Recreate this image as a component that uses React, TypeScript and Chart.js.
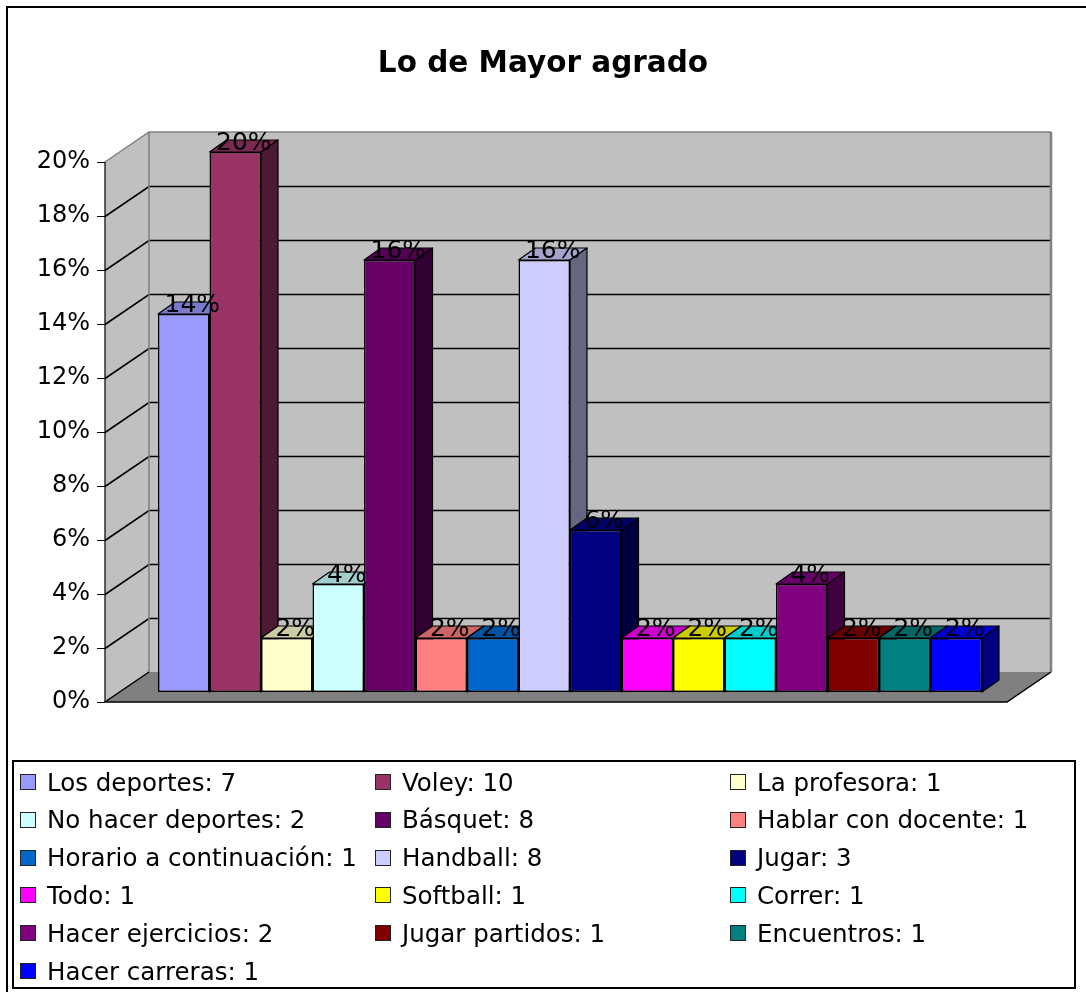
import React, { useEffect, useRef } from "react";
import { Chart, registerables } from "chart.js";

Chart.register(...registerables);

const chartTitle = "Lo de Mayor agrado";

const categories = [
  "Los deportes",
  "Voley",
  "La profesora",
  "No hacer deportes",
  "Básquet",
  "Hablar con docente",
  "Horario a continuación",
  "Handball",
  "Jugar",
  "Todo",
  "Softball",
  "Correr",
  "Hacer ejercicios",
  "Jugar partidos",
  "Encuentros",
  "Hacer carreras",
];

const counts = [7, 10, 1, 2, 8, 1, 1, 8, 3, 1, 1, 1, 2, 1, 1, 1];

const percents = [14, 20, 2, 4, 16, 2, 2, 16, 6, 2, 2, 2, 4, 2, 2, 2];

const colors = [
  "#9999FF",
  "#993366",
  "#FFFFCC",
  "#CCFFFF",
  "#660066",
  "#FF8080",
  "#0066CC",
  "#CCCCFF",
  "#000080",
  "#FF00FF",
  "#FFFF00",
  "#00FFFF",
  "#800080",
  "#800000",
  "#008080",
  "#0000FF",
];

const yMin = 0;
const yMax = 20;
const yStep = 2;

const FONT = '"DejaVu Sans", "Liberation Sans", Arial, sans-serif';

// 3D geometry (pixels)
const WALL = { dx: 44, dy: -30 };
const BAR_OFF = { dx: 14, dy: -10 };
const BAR_DEPTH = { dx: 17, dy: -12 };

function shade(hex: string, f: number): string {
  const n = parseInt(hex.slice(1), 16);
  const r = Math.round(((n >> 16) & 255) * f);
  const g = Math.round(((n >> 8) & 255) * f);
  const b = Math.round((n & 255) * f);
  return `rgb(${r},${g},${b})`;
}

const threeD = {
  id: "threeD",
  beforeDatasetsDraw(chart: any) {
    const { ctx, chartArea: a } = chart;
    const y = chart.scales.y;
    const L = a.left,
      R = a.right,
      T = a.top,
      B = a.bottom;
    const { dx, dy } = WALL;
    ctx.save();
    // left wall
    ctx.fillStyle = "#C0C0C0";
    ctx.beginPath();
    ctx.moveTo(L, B);
    ctx.lineTo(L, T);
    ctx.lineTo(L + dx, T + dy);
    ctx.lineTo(L + dx, B + dy);
    ctx.closePath();
    ctx.fill();
    // back wall
    ctx.fillRect(L + dx, T + dy, R - L, B - T);
    // grid lines
    ctx.strokeStyle = "#000";
    ctx.lineWidth = 1.6;
    for (const t of y.ticks) {
      const v = t.value;
      if (v <= yMin || v >= yMax) continue;
      const py = Math.round(y.getPixelForValue(v)) + 0.5;
      ctx.beginPath();
      ctx.moveTo(L, py);
      ctx.lineTo(L + dx, py + dy);
      ctx.lineTo(R + dx, py + dy);
      ctx.stroke();
    }
    // wall edges
    ctx.strokeStyle = "#808080";
    ctx.lineWidth = 1.5;
    ctx.beginPath();
    ctx.moveTo(L, T);
    ctx.lineTo(L + dx, T + dy);
    ctx.lineTo(R + dx, T + dy);
    ctx.moveTo(L + dx, T + dy);
    ctx.lineTo(L + dx, B + dy);
    ctx.stroke();
    ctx.lineWidth = 2.5;
    ctx.beginPath();
    ctx.moveTo(R + dx, T + dy);
    ctx.lineTo(R + dx, B + dy);
    ctx.stroke();
    // floor
    ctx.fillStyle = "#808080";
    ctx.beginPath();
    ctx.moveTo(L, B);
    ctx.lineTo(R, B);
    ctx.lineTo(R + dx, B + dy);
    ctx.lineTo(L + dx, B + dy);
    ctx.closePath();
    ctx.fill();
    ctx.strokeStyle = "#000";
    ctx.lineWidth = 1.5;
    ctx.beginPath();
    ctx.moveTo(L + dx, B + dy);
    ctx.lineTo(L, B);
    ctx.lineTo(R, B);
    ctx.lineTo(R + dx, B + dy);
    ctx.stroke();
    // axis line + ticks
    ctx.lineWidth = 1.2;
    ctx.beginPath();
    ctx.moveTo(L, T);
    ctx.lineTo(L, B);
    for (const t of y.ticks) {
      const py = Math.round(y.getPixelForValue(t.value)) + 0.5;
      ctx.moveTo(L - 8, py);
      ctx.lineTo(L, py);
    }
    ctx.stroke();
    ctx.restore();

    // bars plane: shift into depth
    ctx.save();
    ctx.translate(BAR_OFF.dx, BAR_OFF.dy);
    const n = chart.data.datasets.length;
    ctx.lineWidth = 1.2;
    ctx.strokeStyle = "#000";
    ctx.lineJoin = "round";
    for (let i = 0; i < n; i++) {
      const meta = chart.getDatasetMeta(i);
      const el = meta.data[0];
      if (!el) continue;
      const p = el.getProps(["x", "y", "base", "width"], true);
      const l = p.x - p.width / 2;
      const r = p.x + p.width / 2;
      const top = Math.min(p.y, p.base);
      const bot = Math.max(p.y, p.base);
      const c = colors[i];
      const bx = BAR_DEPTH.dx,
        by = BAR_DEPTH.dy;
      // top face
      ctx.fillStyle = shade(c, 0.8);
      ctx.beginPath();
      ctx.moveTo(l, top);
      ctx.lineTo(r, top);
      ctx.lineTo(r + bx, top + by);
      ctx.lineTo(l + bx, top + by);
      ctx.closePath();
      ctx.fill();
      ctx.stroke();
      // side face
      ctx.fillStyle = shade(c, 0.5);
      ctx.beginPath();
      ctx.moveTo(r, top);
      ctx.lineTo(r + bx, top + by);
      ctx.lineTo(r + bx, bot + by);
      ctx.lineTo(r, bot);
      ctx.closePath();
      ctx.fill();
      ctx.stroke();
    }
  },
  afterDatasetsDraw(chart: any) {
    const { ctx } = chart;
    const n = chart.data.datasets.length;
    ctx.fillStyle = "#000";
    ctx.font = `25px ${FONT}`;
    ctx.textAlign = "center";
    ctx.textBaseline = "alphabetic";
    for (let i = 0; i < n; i++) {
      const el = chart.getDatasetMeta(i).data[0];
      if (!el) continue;
      const p = el.getProps(["x", "y"], true);
      ctx.fillText(`${percents[i]}%`, p.x + BAR_DEPTH.dx / 2, p.y - 2);
    }
    ctx.restore();
  },
};

export default function App() {
  const canvasRef = useRef<HTMLCanvasElement | null>(null);

  useEffect(() => {
    const canvas = canvasRef.current;
    if (!canvas) return;
    const chart = new Chart(canvas, {
      type: "bar",
      data: {
        labels: [""],
        datasets: categories.map((c, i) => ({
          label: `${c}: ${counts[i]}`,
          data: [percents[i]],
          backgroundColor: colors[i],
          borderColor: "#000",
          borderWidth: 1.5,
          borderSkipped: false,
          categoryPercentage: 0.9135,
          barPercentage: 1,
          clip: false,
        })),
      },
      options: {
        responsive: false,
        animation: false,
        devicePixelRatio: 1,
        layout: { padding: { left: 0, top: 162, right: 79, bottom: 290 } },
        plugins: {
          legend: { display: false },
          title: { display: false },
          tooltip: { enabled: false },
        },
        scales: {
          x: { type: "category", display: false },
          y: {
            min: yMin,
            max: yMax,
            grid: { display: false, drawTicks: false },
            border: { display: false },
            ticks: {
              stepSize: yStep,
              padding: 15,
              color: "#000",
              font: { family: FONT, size: 24 },
              callback: (v: any) => `${v}%`,
            },
            afterFit: (s: any) => {
              s.width = 105;
            },
          },
        },
      } as any,
      plugins: [threeD],
    });
    return () => chart.destroy();
  }, []);

  const legendCols = [47, 402, 757];
  const rowTop = 763;
  const rowH = 37.8;

  return (
    <div
      style={{
        position: "absolute",
        left: 0,
        top: 0,
        width: 1086,
        height: 992,
        overflow: "hidden",
        background: "#fff",
        fontFamily: FONT,
      }}
    >
      <div
        style={{
          position: "absolute",
          left: 6,
          top: 6,
          width: 1090,
          height: 1000,
          borderLeft: "2px solid #000",
          borderTop: "2px solid #000",
        }}
      />
      <canvas
        ref={canvasRef}
        width={1086}
        height={992}
        style={{ position: "absolute", left: 0, top: 0, display: "block" }}
      />
      <div
        style={{
          position: "absolute",
          left: 0,
          width: 1086,
          top: 48,
          textAlign: "center",
          fontWeight: "bold",
          fontSize: 29.5,
          lineHeight: "29px",
          color: "#000",
        }}
      >
        {chartTitle}
      </div>
      <div
        style={{
          position: "absolute",
          left: 12,
          top: 760,
          width: 1064,
          height: 229,
          border: "2px solid #000",
          boxSizing: "border-box",
        }}
      />
      {categories.map((c, i) => {
        const col = i % 3;
        const row = Math.floor(i / 3);
        const x = legendCols[col];
        const top = rowTop + row * rowH;
        return (
          <div
            key={c}
            style={{
              position: "absolute",
              left: x - 27,
              top,
              height: 38,
              display: "flex",
              alignItems: "center",
              whiteSpace: "nowrap",
            }}
          >
            <span
              style={{
                display: "inline-block",
                width: 16,
                height: 16,
                boxSizing: "border-box",
                background: colors[i],
                border: "1px solid #222",
                marginRight: 11,
              }}
            />
            <span style={{ fontSize: 24.5, lineHeight: "25px", color: "#000" }}>
              {`${c}: ${counts[i]}`}
            </span>
          </div>
        );
      })}
    </div>
  );
}
